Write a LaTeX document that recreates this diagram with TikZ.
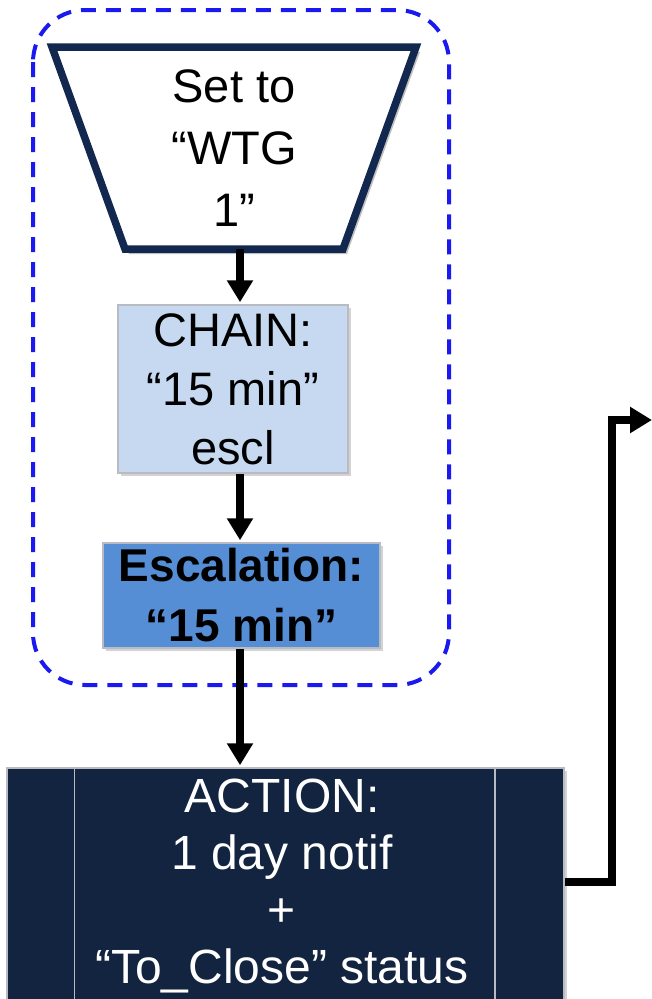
\documentclass[tikz,border=0pt]{standalone}
\usepackage{fontspec}
\setmainfont{Liberation Sans}
\usetikzlibrary{arrows.meta,shadows,calc}
\definecolor{navy}{HTML}{12284F}
\definecolor{chainfill}{HTML}{C6D9F1}
\definecolor{escfill}{HTML}{558ED5}
\definecolor{actfill}{HTML}{132440}
\definecolor{boxedge}{HTML}{B8BCC2}
\definecolor{dashblue}{HTML}{1A1AF0}
\tikzset{
  txt/.style={font=\fontsize{47}{62}\selectfont, align=center, inner sep=0pt},
  procbox/.style={draw=boxedge, line width=1.5pt, txt,
    drop shadow={opacity=0.35, shadow xshift=3pt, shadow yshift=-3pt}},
  arr/.style={line width=8pt, -{Triangle[width=25pt,length=22pt]}, shorten >=2pt},
  frame/.style={draw=dashblue, line width=4pt, dash pattern=on 15pt off 10pt, rounded corners=52pt},
}
\begin{document}
\begin{tikzpicture}[x=1pt,y=-1pt]
\useasboundingbox (0,0) rectangle (652,999);
% dashed group frame
\draw[frame] (33,10) rectangle (449,685);
% trapezoid
\fill[black, opacity=0.25] (56,52) -- (420,52) -- (347,254) -- (129,254) -- cycle;
\draw[draw=navy, fill=white, line width=7.5pt, line join=miter] (52,47) -- (416,47) -- (343,249) -- (125,249) -- cycle;
\node[txt, minimum height=202pt] (set) at (234,148) {Set to\\“WTG\\1”};
% chain box
\node[procbox, fill=chainfill, minimum width=230pt, minimum height=168pt,
      font=\fontsize{47}{59}\selectfont] (chain) at (233,389) {CHAIN:\\“15 min”\\escl};
% escalation box
\node[procbox, fill=escfill, minimum width=277pt, minimum height=105pt,
      font=\fontsize{46}{60}\selectfont\bfseries] (esc) at (241.5,595.5) {Escalation:\\“15 min”};
% action box
\node[procbox, fill=actfill, minimum width=557pt, minimum height=250pt] (act) at (285.5,893) {};
\node[txt, text=white, font=\fontsize{48}{57.3}\selectfont] (acttext) at (282,886)
  {ACTION:\\1 day notif\\+\\“To\_Close” status};
\draw[boxedge, line width=1.5pt] (act.north west) ++(68,0) coordinate (l1) -- (l1 |- act.south);
\draw[boxedge, line width=1.5pt] (act.north east) ++(-70,0) coordinate (r1) -- (r1 |- act.south);
% connectors
\coordinate (col) at (240,0);
\draw[arr] (set.south -| col) -- (chain.north -| col);
\draw[arr] (chain.south -| col) -- (esc.north -| col);
\draw[arr] (esc.south -| col) -- (act.north -| col);
\coordinate (bend) at (612,420);
\coordinate (out) at (652,420);
\coordinate (actout) at ($(act.east)+(0,-11)$);
\draw[arr, shorten >=0pt, line join=miter] (actout) -- (bend |- actout) -- (bend) -- (out);
\end{tikzpicture}
\end{document}
